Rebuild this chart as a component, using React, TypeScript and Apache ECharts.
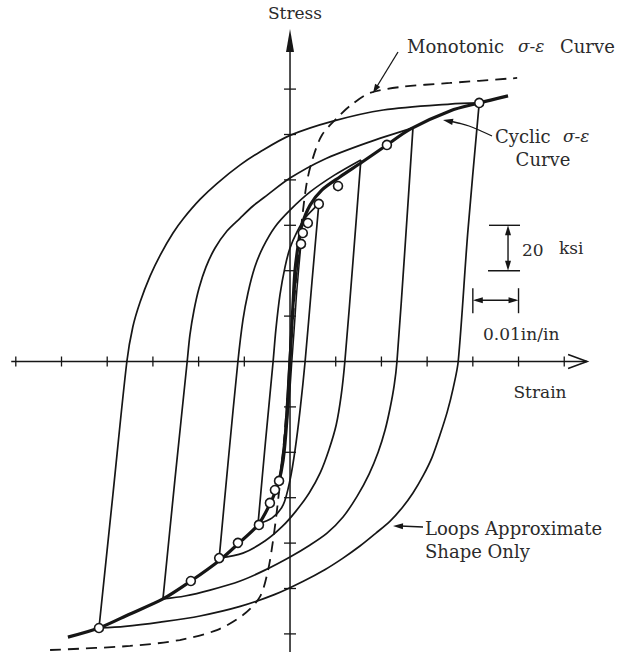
import React, { useEffect, useRef } from "react";
import * as echarts from "echarts";

// Strain is in units of 0.01 in/in, stress in ksi.
const strainTicks = [-6, -5, -4, -3, -2, -1, 1, 2, 3, 4, 5, 6];
const stressTicks = [-120, -100, -80, -60, -40, -20, 20, 40, 60, 80, 100, 120];
const strainAxisEnds = [-6.1, 6.5];
const stressAxisEnds = [-128, 146.5];

// Cyclic stress-strain curve (skeleton through the loop tips)
const cyclicCurve = [
  [-4.86, -121.4], [-4.18, -117.4], [-3.5, -111.2], [-2.78, -104.6], [-2.17, -96.7],
  [-1.53, -87.4], [-1.14, -80.4], [-0.7, -72.0], [-0.44, -62.8], [-0.26, -53.9],
  [-0.15, -43.4], [-0.07, -25.8], [0, 0], [0.07, 27.1], [0.11, 40.3], [0.18, 51.3],
  [0.26, 60.1], [0.44, 68.9], [0.7, 75.6], [1.09, 81.3], [1.58, 87.9], [2.12, 95.4],
  [2.63, 102.4], [3.5, 110.4], [4.14, 113.9], [4.77, 117.0],
];

// Monotonic stress-strain curve
const monotonicCurve = [
  [-5.25, -127.1], [-3.5, -125.3], [-2.41, -122.7], [-1.6, -118.3], [-1.03, -111.7],
  [-0.66, -103.7], [-0.48, -91.9], [-0.37, -78.6], [-0.26, -61.0], [-0.13, -34.6],
  [0, 0], [0.13, 35.9], [0.26, 62.3], [0.37, 79.1], [0.5, 89.6], [0.7, 99.8],
  [1.03, 107.3], [1.31, 112.6], [1.75, 118.3], [2.41, 120.9], [3.5, 122.7], [4.97, 124.9],
];

// Stable loop tips measured in tests
const testPoints = [
  [4.14, 113.9], [2.12, 95.4], [1.05, 77.3], [0.63, 69.4], [0.39, 61.0], [0.28, 56.6], [0.24, 51.8],
  [-4.18, -117.4], [-2.17, -96.7], [-1.55, -86.6], [-1.14, -79.9], [-0.68, -72.0],
  [-0.44, -62.3], [-0.33, -56.6], [-0.24, -52.6],
];

// Hysteresis loops: ascending (reloading) and descending (unloading) branches
const loopAUp = [
  [-4.18, -117.4], [-3.875, -58.6], [-3.57, 0], [-3.44, 15.2], [-3.28, 26.2], [-3.06, 37.7],
  [-2.84, 46.9], [-2.56, 56.6], [-2.34, 62.8], [-1.97, 71.4], [-1.6, 78.4], [-1.09, 86.6],
  [-0.66, 92.3], [0, 99.6], [0.94, 105.9], [2.04, 110.8], [3.5, 113.4], [4.14, 113.9],
];
const loopADown = [
  [4.14, 113.9], [3.89, 57.0], [3.68, 0], [3.57, -11.7], [3.44, -22.2], [3.28, -32.4],
  [3.11, -42.1], [2.91, -50.4], [2.69, -57.9], [2.45, -64.5], [2.19, -70.3], [1.88, -75.6],
  [1.53, -81.3], [1.16, -86.6], [0.77, -91.6], [0.28, -96.9], [-0.33, -102.6], [-1.09, -107.9],
  [-1.97, -112.1], [-2.84, -114.8], [-3.61, -116.7], [-4.18, -117.4],
];
const loopBUp = [
  [-2.78, -104.6], [-2.52, -52.4], [-2.25, 0], [-2.19, 11.7], [-2.1, 22.7], [-1.99, 32.4],
  [-1.84, 41.6], [-1.64, 50.0], [-1.38, 57.5], [-1.09, 63.2], [-0.81, 68.5], [-0.5, 73.3],
  [0, 80.8], [0.72, 88.8], [1.68, 96.3], [2.69, 102.9],
];
const loopBDown = [
  [2.69, 102.9], [2.52, 51.3], [2.34, 0], [2.28, -10.4], [2.19, -20.5], [2.08, -30.2],
  [1.93, -39.9], [1.73, -49.6], [1.47, -59.3], [1.16, -68.5], [0.81, -75.6], [0.44, -80.8],
  [0, -86.1], [-0.55, -91.9], [-1.09, -96.7], [-1.75, -100.7], [-2.3, -103.3], [-2.78, -104.6],
];
const loopCUp = [
  [-1.55, -86.6], [-1.35, -43.4], [-1.14, 0], [-1.03, 18.3], [-0.92, 30.2], [-0.77, 41.6],
  [-0.59, 50.4], [-0.33, 59.3], [0, 66.7], [0.44, 74.7], [0.98, 82.2], [1.55, 88.8],
];
const loopCDown = [
  [1.55, 88.8], [1.38, 44.7], [1.2, 0], [1.12, -14.8], [1.01, -28.0], [0.85, -39.0],
  [0.66, -49.1], [0.42, -57.9], [0.13, -65.9], [-0.18, -72.9], [-0.55, -79.1], [-1.03, -84.4],
  [-1.55, -86.6],
];
const loopDUp = [
  [-0.7, -71.6], [-0.54, -36], [-0.37, 0], [-0.31, 13.9], [-0.22, 29.3], [-0.11, 41.6],
  [0, 50.0], [0.15, 57.0], [0.33, 63.2], [0.63, 69.4],
];
const loopDDown = [
  [0.63, 69.4], [0.48, 35], [0.33, 0], [0.22, -21.4], [0.11, -39.0], [0, -52.2],
  [-0.15, -63.2], [-0.39, -68.9], [-0.7, -71.6],
];
const loopEUp = [
  [-0.24, -52.6], [-0.13, -34.6], [-0.07, -17.2], [-0.02, 0], [0.04, 18.1], [0.13, 35.9],
  [0.2, 46.9], [0.24, 51.8],
];
const loopEDown = [
  [0.24, 51.8], [0.15, 31.5], [0.09, 13.9], [0.04, 0], [-0.02, -17.2], [-0.11, -34.6],
  [-0.2, -47.8], [-0.24, -52.6],
];

// Scale bars: 20 ksi and 0.01 in/in
const stressScaleBar = [40, 60];
const strainScaleBar = [4, 5];

const INK = "#161616";
const TEXT = "#2b2b2b";
const SERIF = '"DejaVu Serif", "Liberation Serif", serif';

const branch = (data: number[][], width = 1.7) => ({
  type: "line",
  data,
  symbol: "none",
  smooth: 0.3,
  silent: true,
  clip: false,
  lineStyle: { color: INK, width },
  z: 3,
});

function arrowHead(tip: number[], from: number[], len: number, half: number) {
  const dx = tip[0] - from[0];
  const dy = tip[1] - from[1];
  const d = Math.hypot(dx, dy) || 1;
  const ux = dx / d;
  const uy = dy / d;
  const bx = tip[0] - ux * len;
  const by = tip[1] - uy * len;
  return [
    [tip[0], tip[1]],
    [bx - uy * half, by + ux * half],
    [bx + uy * half, by - ux * half],
  ];
}

export default function App() {
  const ref = useRef<HTMLDivElement>(null);

  useEffect(() => {
    if (!ref.current) return;
    const chart = echarts.init(ref.current, null, { renderer: "svg" });

    const option: any = {
      animation: false,
      backgroundColor: "#ffffff",
      grid: { left: 6.66, right: 29.34, top: 21, bottom: 2.94 },
      xAxis: { type: "value", min: -6.2, max: 6.6, show: false },
      yAxis: { type: "value", min: -128, max: 150, show: false },
      series: [
        // axes with arrows
        {
          type: "custom",
          data: [[0, 0]],
          silent: true,
          z: 2,
          renderItem: (_p: any, api: any) => {
            const xl = api.coord([strainAxisEnds[0], 0]);
            const xr = api.coord([strainAxisEnds[1], 0]);
            const yb = api.coord([0, stressAxisEnds[0]]);
            const yt = api.coord([0, stressAxisEnds[1]]);
            return {
              type: "group",
              children: [
                { type: "line", shape: { x1: xl[0], y1: xl[1], x2: xr[0], y2: xr[1] }, style: { stroke: INK, lineWidth: 1.5 } },
                {
                  type: "polyline",
                  shape: { points: [[xr[0] - 19, xr[1] - 7], [xr[0], xr[1]], [xr[0] - 19, xr[1] + 7]] },
                  style: { stroke: INK, lineWidth: 1.6, fill: "none" },
                },
                { type: "line", shape: { x1: yb[0], y1: yb[1], x2: yt[0], y2: yt[1] + 12 }, style: { stroke: INK, lineWidth: 1.5 } },
                {
                  type: "polygon",
                  shape: { points: [[yt[0], yt[1]], [yt[0] - 4, yt[1] + 23], [yt[0] + 4, yt[1] + 23]] },
                  style: { fill: INK },
                },
              ],
            };
          },
        },
        // strain ticks
        {
          type: "custom",
          data: strainTicks.map((v) => [v, 0]),
          silent: true,
          z: 2,
          renderItem: (_p: any, api: any) => {
            const p = api.coord([api.value(0), api.value(1)]);
            return { type: "line", shape: { x1: p[0], y1: p[1] - 5, x2: p[0], y2: p[1] + 5 }, style: { stroke: INK, lineWidth: 1.3 } };
          },
        },
        // stress ticks
        {
          type: "custom",
          data: stressTicks.map((v) => [0, v]),
          silent: true,
          z: 2,
          renderItem: (_p: any, api: any) => {
            const p = api.coord([api.value(0), api.value(1)]);
            return { type: "line", shape: { x1: p[0] - 6, y1: p[1], x2: p[0] + 6, y2: p[1] }, style: { stroke: INK, lineWidth: 1.3 } };
          },
        },
        // scale bars
        {
          type: "custom",
          data: [[0, 0]],
          silent: true,
          z: 2,
          renderItem: (_p: any, api: any) => {
            const barStrain = 4.77;
            const barStress = 27;
            const top = api.coord([barStrain, stressScaleBar[1]]);
            const bot = api.coord([barStrain, stressScaleBar[0]]);
            const left = api.coord([strainScaleBar[0], barStress]);
            const right = api.coord([strainScaleBar[1], barStress]);
            const s = { stroke: INK, lineWidth: 1.4 };
            return {
              type: "group",
              children: [
                { type: "line", shape: { x1: top[0] - 19, y1: top[1], x2: top[0] + 12, y2: top[1] }, style: s },
                { type: "line", shape: { x1: bot[0] - 20, y1: bot[1], x2: bot[0] + 12, y2: bot[1] }, style: s },
                { type: "line", shape: { x1: top[0], y1: top[1] + 4, x2: bot[0], y2: bot[1] - 4 }, style: s },
                { type: "polygon", shape: { points: arrowHead(top, bot, 10, 3) }, style: { fill: INK } },
                { type: "polygon", shape: { points: arrowHead(bot, top, 10, 3) }, style: { fill: INK } },
                { type: "line", shape: { x1: left[0], y1: left[1] - 12, x2: left[0], y2: left[1] + 13 }, style: s },
                { type: "line", shape: { x1: right[0], y1: right[1] - 12, x2: right[0], y2: right[1] + 13 }, style: s },
                { type: "line", shape: { x1: left[0] + 3, y1: left[1], x2: right[0] - 3, y2: right[1] }, style: s },
                { type: "polygon", shape: { points: arrowHead(left, right, 10, 3) }, style: { fill: INK } },
                { type: "polygon", shape: { points: arrowHead(right, left, 10, 3) }, style: { fill: INK } },
              ],
            };
          },
        },
        // monotonic curve
        {
          type: "line",
          data: monotonicCurve,
          symbol: "none",
          smooth: 0.3,
          silent: true,
          clip: false,
          lineStyle: { color: INK, width: 1.8, type: [11, 7] },
          z: 3,
        },
        branch(loopAUp),
        branch(loopADown),
        branch(loopBUp),
        branch(loopBDown),
        branch(loopCUp),
        branch(loopCDown),
        branch(loopDUp),
        branch(loopDDown),
        branch(loopEUp, 1.5),
        branch(loopEDown, 1.5),
        branch(cyclicCurve, 3.2),
        {
          type: "scatter",
          data: testPoints,
          symbol: "circle",
          symbolSize: 9,
          silent: true,
          itemStyle: { color: "#ffffff", borderColor: INK, borderWidth: 1.6, opacity: 1 },
          z: 10,
        },
      ],
      graphic: [
        { type: "text", x: 295, y: 13, style: { text: "Stress", font: `17px ${SERIF}`, fill: TEXT, align: "center", verticalAlign: "middle" } },
        { type: "text", x: 540, y: 392, style: { text: "Strain", font: `17px ${SERIF}`, fill: TEXT, align: "center", verticalAlign: "middle" } },
        { type: "text", x: 407, y: 46, style: { text: "Monotonic", font: `18px ${SERIF}`, fill: TEXT, align: "left", verticalAlign: "middle" } },
        { type: "text", x: 518, y: 46, style: { text: "σ-ε", font: `italic 17px ${SERIF}`, fill: TEXT, align: "left", verticalAlign: "middle" } },
        { type: "text", x: 560, y: 46, style: { text: "Curve", font: `18px ${SERIF}`, fill: TEXT, align: "left", verticalAlign: "middle" } },
        { type: "text", x: 495, y: 136, style: { text: "Cyclic", font: `18px ${SERIF}`, fill: TEXT, align: "left", verticalAlign: "middle" } },
        { type: "text", x: 563, y: 136, style: { text: "σ-ε", font: `italic 17px ${SERIF}`, fill: TEXT, align: "left", verticalAlign: "middle" } },
        { type: "text", x: 543, y: 159, style: { text: "Curve", font: `18px ${SERIF}`, fill: TEXT, align: "center", verticalAlign: "middle" } },
        { type: "text", x: 522, y: 250, style: { text: "20", font: `17px ${SERIF}`, fill: TEXT, align: "left", verticalAlign: "middle" } },
        { type: "text", x: 559, y: 248, style: { text: "ksi", font: `17px ${SERIF}`, fill: TEXT, align: "left", verticalAlign: "middle" } },
        { type: "text", x: 483, y: 334, style: { text: "0.01in/in", font: `17px ${SERIF}`, fill: TEXT, align: "left", verticalAlign: "middle" } },
        { type: "text", x: 425, y: 528, style: { text: "Loops Approximate", font: `18px ${SERIF}`, fill: TEXT, align: "left", verticalAlign: "middle" } },
        { type: "text", x: 425, y: 551, style: { text: "Shape Only", font: `18px ${SERIF}`, fill: TEXT, align: "left", verticalAlign: "middle" } },
        // leader lines
        { type: "line", shape: { x1: 398, y1: 52, x2: 376, y2: 88 }, style: { stroke: INK, lineWidth: 1.3 } },
        { type: "polygon", shape: { points: arrowHead([373, 93], [398, 52], 9, 3) }, style: { fill: INK } },
        {
          type: "polyline",
          shape: { points: [[492, 136], [481, 131], [469, 126], [458, 123], [449, 121]], smooth: 0.4 },
          style: { stroke: INK, lineWidth: 1.3, fill: "none" },
        },
        { type: "polygon", shape: { points: arrowHead([443, 120], [458, 123], 10, 3.2) }, style: { fill: INK } },
        { type: "line", shape: { x1: 423, y1: 527, x2: 400, y2: 526 }, style: { stroke: INK, lineWidth: 1.3 } },
        { type: "polygon", shape: { points: arrowHead([393, 526], [423, 527], 10, 3) }, style: { fill: INK } },
      ],
    };

    chart.setOption(option);
    return () => chart.dispose();
  }, []);

  return (
    <div
      ref={ref}
      style={{ position: "absolute", left: 0, top: 0, width: 621, height: 655, background: "#fff" }}
    />
  );
}
